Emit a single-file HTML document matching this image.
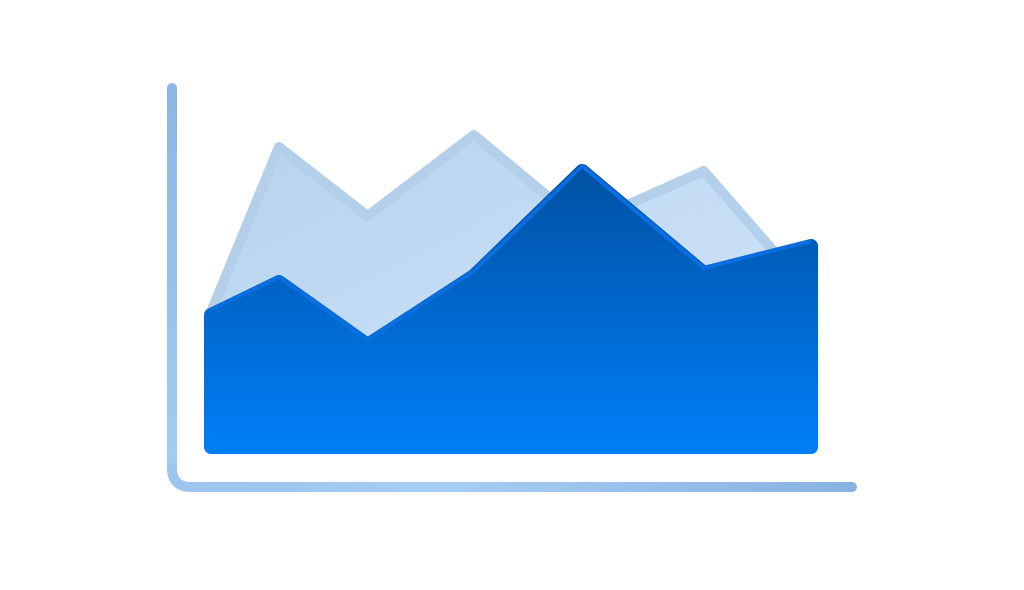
<!DOCTYPE html>
<html><head><meta charset="utf-8"><style>
html,body{margin:0;padding:0;background:#fff;width:1024px;height:590px;overflow:hidden}
svg{display:block}
</style></head><body>
<svg id="chart" width="1024" height="590" viewBox="0 0 1024 590" xmlns="http://www.w3.org/2000/svg">
<defs>
<linearGradient id="gFront" gradientUnits="userSpaceOnUse" x1="0" y1="160" x2="0" y2="460"><stop offset="0" stop-color="#004f9f"/><stop offset="1" stop-color="#0080fa"/></linearGradient>
<linearGradient id="gBack" x1="0" y1="0" x2="1" y2="1"><stop offset="0" stop-color="#b6d2ee"/><stop offset="1" stop-color="#d3e6fa"/></linearGradient>
<linearGradient id="gAxis" gradientUnits="userSpaceOnUse" x1="172" y1="0" x2="852" y2="0"><stop offset="0" stop-color="#9cc4ee"/><stop offset="0.4" stop-color="#a8cdf2"/><stop offset="1" stop-color="#88b2e2"/></linearGradient>
<linearGradient id="gAxisV" gradientUnits="userSpaceOnUse" x1="0" y1="88" x2="0" y2="480"><stop offset="0" stop-color="#8cb6e6"/><stop offset="1" stop-color="#a6ccf2"/></linearGradient>
</defs>
<path d="M172 88 L172 470" stroke="url(#gAxisV)" stroke-width="10" stroke-linecap="round" fill="none"/>
<path d="M172 468 Q172 487 191 487 L852 487" stroke="url(#gAxis)" stroke-width="10" stroke-linecap="round" fill="none"/>
<g id="plot"></g>
</svg>
<script>
const xValues = [0, 6.2, 14.3, 24, 33.9, 45, 54.8];
const backSeries = [45, 100, 77, 104, 74, 92, 51];
const frontSeries = [44, 55, 34, 57, 92, 58, 67];
const X0 = 211, XS = 10.95, Y0 = 447, YS = 3;
function xs(v){return X0 + v*XS;}
function ys(v){return Y0 - v*YS;}
function areaPath(vals){
  let d = 'M' + xs(xValues[0]) + ' ' + ys(0);
  vals.forEach((v,i)=>{ d += ' L' + xs(xValues[i]) + ' ' + ys(v); });
  d += ' L' + xs(xValues[xValues.length-1]) + ' ' + ys(0) + ' Z';
  return d;
}
function linePath(vals){
  return vals.map((v,i)=>(i?'L':'M') + xs(xValues[i]) + ' ' + ys(v)).join(' ');
}
const g = document.getElementById('plot');
const ns = 'http://www.w3.org/2000/svg';
const back = document.createElementNS(ns,'path');


back.setAttribute('d', areaPath(backSeries));
back.setAttribute('fill', 'url(#gBack)');
back.setAttribute('stroke', '#b4cfea');
back.setAttribute('stroke-width', '10');
back.setAttribute('stroke-linejoin', 'round');
g.appendChild(back);
const front = document.createElementNS(ns,'path');


front.setAttribute('d', areaPath(frontSeries));
front.setAttribute('fill', 'url(#gFront)');
front.setAttribute('stroke', 'url(#gFront)');
front.setAttribute('stroke-width', '14');
front.setAttribute('stroke-linejoin', 'round');
g.appendChild(front);
const edge = document.createElementNS(ns,'path');


edge.setAttribute('d', linePath(frontSeries));
edge.setAttribute('fill', 'none');
edge.setAttribute('stroke', '#0a6ee0');
edge.setAttribute('stroke-width', '4');
edge.setAttribute('stroke-linejoin', 'round');
edge.setAttribute('transform', 'translate(0,-5)');
g.appendChild(edge);
</script>
</body></html>
